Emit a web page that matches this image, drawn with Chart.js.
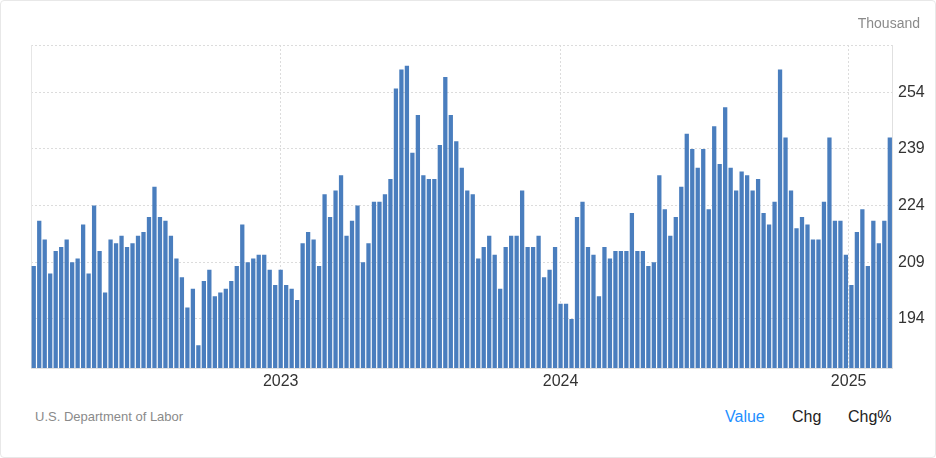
<!DOCTYPE html>
<html>
<head>
<meta charset="utf-8">
<script src="https://cdn.jsdelivr.net/npm/chart.js@4.4.1/dist/chart.umd.min.js"></script>
<style>
html,body{margin:0;padding:0;background:#fff;}
body{width:936px;height:458px;position:relative;overflow:hidden;font-family:"Liberation Sans",Arial,Helvetica,sans-serif;}
.card{position:absolute;left:0;top:0;width:934px;height:456px;border:1px solid #e8e8e8;border-radius:4px;}
#wrap{position:absolute;left:0;top:0;width:936px;height:400px;}
.unit{position:absolute;right:16px;top:15px;font-size:14px;color:#8a8a8a;}
.src{position:absolute;left:35px;top:409px;font-size:13px;color:#8a8a8a;}
.tab{position:absolute;top:408px;font-size:16px;color:#222;}
</style>
</head>
<body>
<div class="card"></div>
<div id="wrap"><canvas id="c" width="936" height="400"></canvas></div>
<div class="unit">Thousand</div>
<div class="src">U.S. Department of Labor</div>
<div class="tab" style="left:725px;color:#1e8fff">Value</div>
<div class="tab" style="left:792px">Chg</div>
<div class="tab" style="left:848px">Chg%</div>
<script>
// weekly initial claims, thousands (Feb 2022 .. Feb 2025)
const claims = [
  208,220,215,206,212,213,215,209,210,219,206,224,212,201,215,214,216,213,214,216,
  217,221,229,221,220,216,210,205,197,202,187,204,207,200,201,202,204,208,219,209,
  210,211,211,207,203,207,203,202,199,214,217,215,208,227,221,228,232,216,220,224,
  209,214,225,225,227,231,255,260,261,238,248,232,231,231,240,258,248,241,234,228,
  227,210,213,216,211,202,213,216,216,228,213,213,216,205,207,213,198,198,194,221,
  225,213,211,200,213,210,212,212,212,222,212,212,208,209,232,223,216,221,229,243,
  239,234,239,223,245,235,250,234,228,233,232,228,231,222,219,225,260,242,228,218,
  221,219,215,215,225,242,220,220,211,203,217,223,208,220,214,220,242
];
// year marks, placed at the bar index where each year begins
const yearLabels = ['2023','2024','2025'];
const yearTicks = [45, 96, 148.5];
const yTicks = [194,209,224,239,254];
const yMin = 181, yMax = 266.5;

const FONT = '"Liberation Sans", Arial, Helvetica, sans-serif';

const leftEdge = {
  id:'leftEdge',
  beforeDatasetsDraw(chart){
    const {ctx,chartArea:a}=chart;
    ctx.save();
    ctx.strokeStyle='#e6e6e6';ctx.lineWidth=1;
    ctx.beginPath();ctx.moveTo(a.left+0.5,a.top);ctx.lineTo(a.left+0.5,a.bottom);ctx.stroke();
    ctx.restore();
  }
};

new Chart(document.getElementById('c'),{
  type:'bar',
  data:{datasets:[{
    data:claims.map((v,i)=>({x:i,y:v})),
    backgroundColor:'#4a7ebe',
    barPercentage:0.78,
    categoryPercentage:1
  }]},
  options:{
    responsive:false,
    animation:false,
    devicePixelRatio:1,
    layout:{padding:{left:31,top:45,right:4,bottom:0}},
    plugins:{legend:{display:false},tooltip:{enabled:false}},
    scales:{
      x:{
        type:'linear',min:-0.5,max:156.4,offset:false,bounds:'data',
        afterBuildTicks:s=>{s.ticks=yearTicks.map(v=>({value:v}));},
        afterFit:s=>{s.height=32;},
        ticks:{callback:(v,i)=>yearLabels[i],autoSkip:false,maxRotation:0,padding:4,color:'#333',font:{size:16,family:FONT}},
        grid:{color:'#dcdcdc',drawTicks:false,offset:false},
        border:{color:'#e0e0e0',dash:[2,2]}
      },
      y:{
        position:'right',min:yMin,max:yMax,
        afterBuildTicks:s=>{s.ticks=[...yTicks,yMax].map(v=>({value:v}));},
        afterFit:s=>{s.width=40;},
        ticks:{callback:v=>yTicks.includes(v)?String(v):'',padding:6,color:'#333',font:{size:16,family:FONT}},
        grid:{color:'#dcdcdc',drawTicks:false},
        border:{color:'#e0e0e0',dash:[2,2]}
      }
    }
  },
  plugins:[leftEdge]
});
</script>
</body>
</html>
